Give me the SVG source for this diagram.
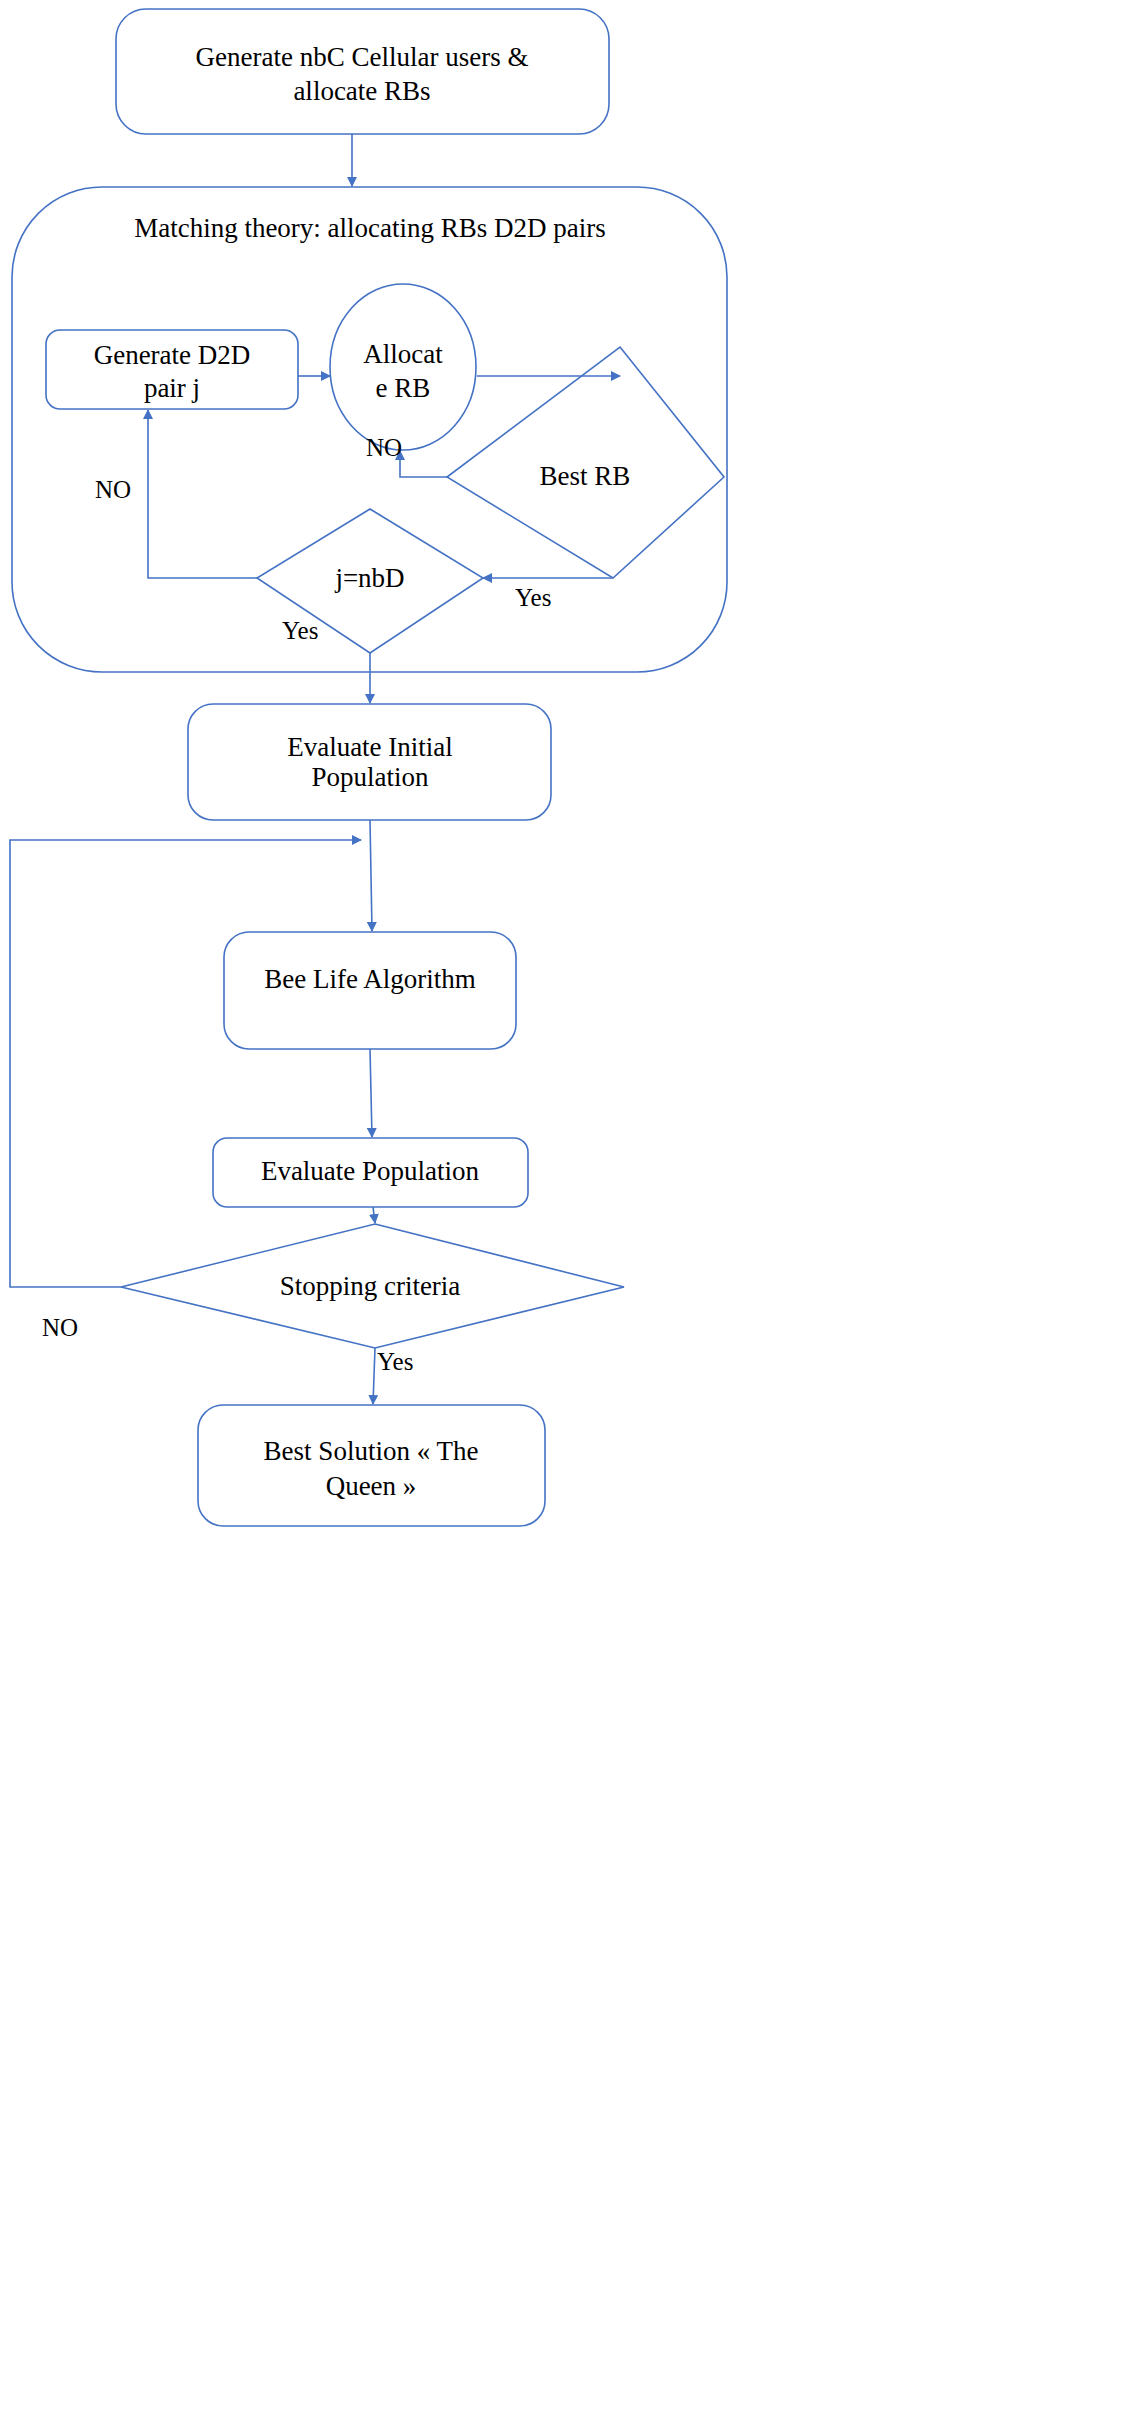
<svg xmlns="http://www.w3.org/2000/svg" width="1131" height="2411" viewBox="0 0 1131 2411">
<style>
.s{fill:#fff;stroke:#4472C4;stroke-width:1.6}
.c{fill:none;stroke:#4472C4;stroke-width:1.6}
text{font-family:"Liberation Serif","DejaVu Serif",serif;font-size:27px;fill:#000;text-anchor:middle}
.l{text-anchor:start;font-size:25px}
</style>
<defs><marker id="a" markerWidth="10" markerHeight="10" refX="9" refY="5" orient="auto" markerUnits="userSpaceOnUse"><path d="M0,0L10,5L0,10z" fill="#4472C4"/></marker></defs>
<rect width="1131" height="2411" fill="#fff"/>
<g id="container"><rect class="s" x="12" y="187" width="715" height="485" rx="90"/><text x="370" y="237">Matching theory: allocating RBs  D2D pairs</text></g>
<g id="n1"><rect class="s" x="116" y="9" width="493" height="125" rx="30"/><text x="362" y="66">Generate nbC Cellular  users &amp;</text><text x="362" y="100">allocate RBs</text></g>
<g id="n2"><rect class="s" x="46" y="330" width="252" height="79" rx="14"/><text x="172" y="364">Generate D2D</text><text x="172" y="397">pair j</text></g>
<g id="n3"><ellipse class="s" cx="403" cy="367" rx="73" ry="83"/><text x="403" y="363">Allocat</text><text x="403" y="397">e RB</text></g>
<g id="n4"><polygon class="s" points="620,347 724,477 613,578 447,477"/><text x="585" y="485">Best RB</text></g>
<g id="n5"><polygon class="s" points="370,509 483,578 370,653 257,578"/><text x="370" y="587">j=nbD</text></g>
<g id="n6"><rect class="s" x="188" y="704" width="363" height="116" rx="25"/><text x="370" y="756">Evaluate Initial</text><text x="370" y="786">Population</text></g>
<g id="n7"><rect class="s" x="224" y="932" width="292" height="117" rx="25"/><text x="370" y="988">Bee Life Algorithm</text></g>
<g id="n8"><rect class="s" x="213" y="1138" width="315" height="69" rx="14"/><text x="370" y="1180">Evaluate Population</text></g>
<g id="n9"><polygon class="s" points="375,1224 624,1287 375,1348 121,1287"/><text x="370" y="1295">Stopping criteria</text></g>
<g id="n10"><rect class="s" x="198" y="1405" width="347" height="121" rx="25"/><text x="371" y="1460">Best Solution « The</text><text x="371" y="1495">Queen »</text></g>
<g id="connectors">
<path class="c" d="M352,134V186" marker-end="url(#a)"/>
<path class="c" d="M298,376H330" marker-end="url(#a)"/>
<path class="c" d="M477,376H620" marker-end="url(#a)"/>
<path class="c" d="M447,477H400V451" marker-end="url(#a)"/>
<path class="c" d="M613,578H483" marker-end="url(#a)"/>
<path class="c" d="M257,578H148V410" marker-end="url(#a)"/>
<path class="c" d="M370,653V703" marker-end="url(#a)"/>
<path class="c" d="M370,820L372,931" marker-end="url(#a)"/>
<path class="c" d="M121,1287H10V840H361" marker-end="url(#a)"/>
<path class="c" d="M370,1049L372,1137" marker-end="url(#a)"/>
<path class="c" d="M373,1207L375,1223" marker-end="url(#a)"/>
<path class="c" d="M375,1348L373,1404" marker-end="url(#a)"/>
<text class="l" x="366" y="456">NO</text>
<text class="l" x="95" y="498">NO</text>
<text class="l" x="515" y="606">Yes</text>
<text class="l" x="282" y="639">Yes</text>
<text class="l" x="42" y="1336">NO</text>
<text class="l" x="377" y="1370">Yes</text>
</g>
</svg>
